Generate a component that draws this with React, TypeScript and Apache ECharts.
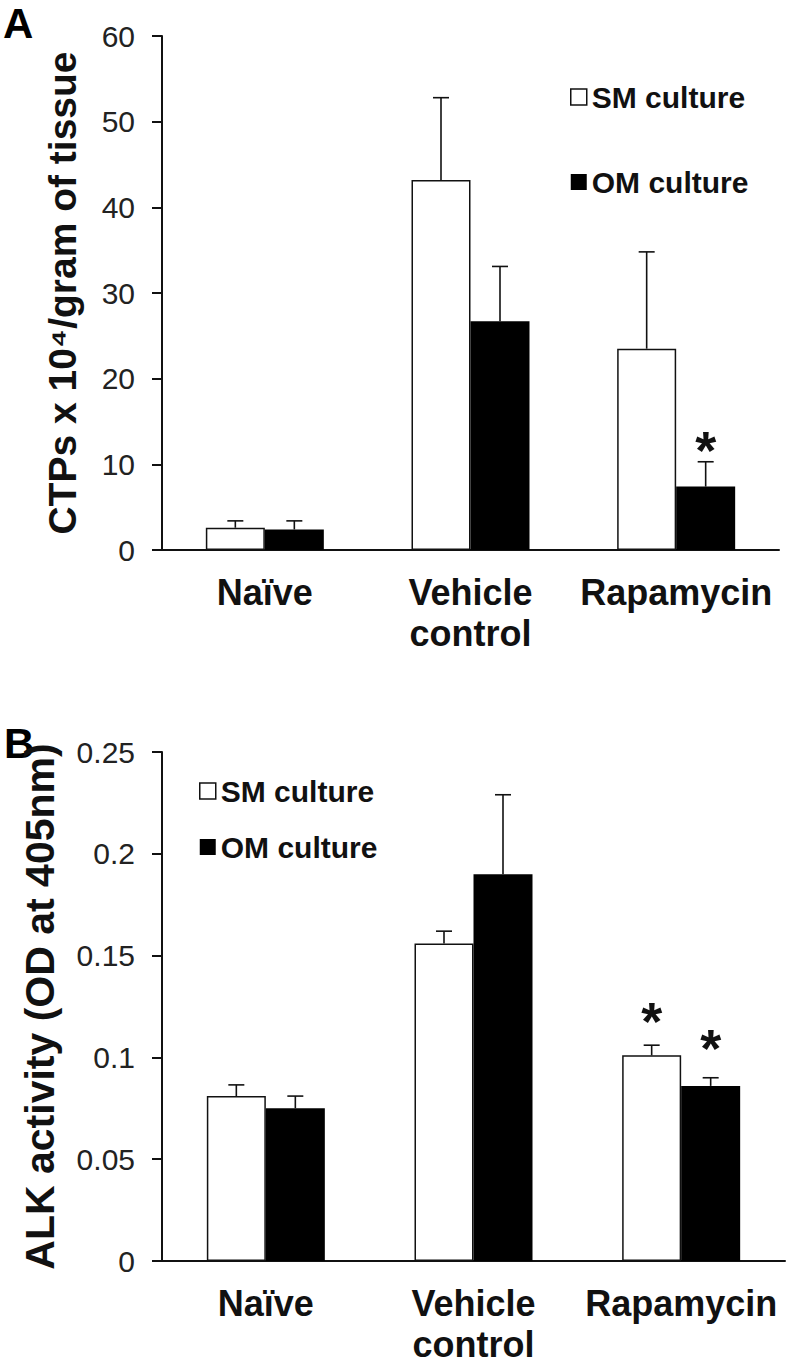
import { useEffect, useRef } from 'react';
import * as echarts from 'echarts';

const categories = ['Naïve', 'Vehicle\ncontrol', 'Rapamycin'];
const seriesNames = ['SM culture', 'OM culture'];

// Panel A: CTPs x 10^4 / gram of tissue
const ctpSM = [2.6, 43.2, 23.5];
const ctpSMErr = [0.8, 9.6, 11.3];
const ctpSMSig = [0, 0, 0];
const ctpOM = [2.4, 26.7, 7.4];
const ctpOMErr = [1.0, 6.4, 2.9];
const ctpOMSig = [0, 0, 1];

// Panel B: ALK activity (OD at 405nm)
const alkSM = [0.081, 0.156, 0.101];
const alkSMErr = [0.0055, 0.006, 0.005];
const alkSMSig = [0, 0, 1];
const alkOM = [0.075, 0.190, 0.086];
const alkOMErr = [0.006, 0.039, 0.004];
const alkOMSig = [0, 0, 1];

const FONT = '"Liberation Sans", Arial, Helvetica, sans-serif';
const BAR_W = 59;

function errData(vals: number[], errs: number[], sig: number[]) {
  return vals.map((v, i) => [i, v, v + errs[i], sig[i]]);
}

function errSeries(
  data: number[][],
  offset: number,
  axisIndex: number,
  starGap: number
) {
  return {
    type: 'custom',
    xAxisIndex: axisIndex,
    yAxisIndex: axisIndex,
    silent: true,
    z: 5,
    encode: { x: 0, y: [1, 2] },
    data,
    renderItem: (params: any, api: any) => {
      const i = api.value(0);
      const base = api.coord([i, api.value(1)]);
      const cap = api.coord([i, api.value(2)]);
      const x = base[0] + offset;
      const stroke = { stroke: '#111', lineWidth: 1.6 };
      const children: any[] = [
        { type: 'line', shape: { x1: x, y1: base[1], x2: x, y2: cap[1] }, style: stroke },
        { type: 'line', shape: { x1: x - 8, y1: cap[1], x2: x + 8, y2: cap[1] }, style: stroke },
      ];
      if (api.value(3)) {
        children.push({
          type: 'text',
          style: {
            text: '*',
            x,
            y: cap[1] - starGap,
            align: 'center',
            verticalAlign: 'middle',
            fontSize: 54,
            fontWeight: 'bold',
            fontFamily: FONT,
            fill: '#111',
          },
        });
      }
      return { type: 'group', children };
    },
  };
}

function barSeries(name: string, data: number[], axisIndex: number, white: boolean) {
  return {
    name,
    type: 'bar',
    xAxisIndex: axisIndex,
    yAxisIndex: axisIndex,
    barWidth: BAR_W,
    barGap: '0%',
    data,
    itemStyle: white
      ? { color: '#ffffff', borderColor: '#111', borderWidth: 1.5 }
      : { color: '#000000' },
  };
}

const legendData = [
  { name: seriesNames[0], itemStyle: { color: '#ffffff', borderColor: '#111', borderWidth: 1.5 } },
  { name: seriesNames[1], itemStyle: { color: '#000000', borderWidth: 0 } },
];

function yAxisBase(
  name: string,
  max: number,
  interval: number,
  gap: number,
  gridIndex: number,
  nameSize: number
) {
  return {
    type: 'value',
    gridIndex,
    min: 0,
    max,
    interval,
    name,
    nameLocation: 'middle',
    nameRotate: 90,
    nameGap: gap,
    nameTextStyle: { fontSize: nameSize, fontWeight: 'bold', color: '#111', fontFamily: FONT },
    axisLine: { show: true, lineStyle: { color: '#111', width: 2 } },
    axisTick: { show: true, length: 10, lineStyle: { color: '#111', width: 2 } },
    axisLabel: { fontSize: 30, color: '#222', margin: 27, fontFamily: FONT },
    splitLine: { show: false },
  };
}

function xAxisBase(gridIndex: number) {
  return {
    type: 'category',
    gridIndex,
    data: categories,
    axisLine: { show: true, lineStyle: { color: '#111', width: 2 } },
    axisTick: { show: false },
    axisLabel: {
      fontSize: 36,
      fontWeight: 'bold',
      color: '#111',
      margin: 22,
      lineHeight: 41,
      fontFamily: FONT,
      interval: 0,
    },
  };
}

const legendText = { fontSize: 30, fontWeight: 'bold', color: '#111', fontFamily: FONT, lineHeight: 30 };

export default function App() {
  const ref = useRef<HTMLDivElement>(null);
  useEffect(() => {
    const chart = echarts.init(ref.current!, null, { renderer: 'svg' });
    const option = {
      animation: false,
      backgroundColor: '#ffffff',
      grid: [
        { left: 162, top: 36, width: 617, height: 514 },
        { left: 162, top: 752, width: 623, height: 510 },
      ],
      legend: [
        {
          data: legendData,
          orient: 'vertical',
          left: 570,
          top: 82,
          padding: 0,
          itemWidth: 16,
          itemHeight: 16,
          itemGap: 55,
          icon: 'rect',
          selectedMode: false,
          textStyle: legendText,
        },
        {
          data: legendData,
          orient: 'vertical',
          left: 199,
          top: 776,
          padding: 0,
          itemWidth: 16,
          itemHeight: 16,
          itemGap: 26,
          icon: 'rect',
          selectedMode: false,
          textStyle: legendText,
        },
      ],
      xAxis: [xAxisBase(0), xAxisBase(1)],
      yAxis: [
        yAxisBase('CTPs x 10⁴/gram of tissue', 60, 10, 80, 0, 39),
        yAxisBase('ALK activity (OD at 405nm)', 0.25, 0.05, 102, 1, 41),
      ],
      series: [
        barSeries(seriesNames[0], ctpSM, 0, true),
        barSeries(seriesNames[1], ctpOM, 0, false),
        errSeries(errData(ctpSM, ctpSMErr, ctpSMSig), -BAR_W / 2, 0, 12),
        errSeries(errData(ctpOM, ctpOMErr, ctpOMSig), BAR_W / 2, 0, 12),
        barSeries(seriesNames[0], alkSM, 1, true),
        barSeries(seriesNames[1], alkOM, 1, false),
        errSeries(errData(alkSM, alkSMErr, alkSMSig), -BAR_W / 2, 1, 24),
        errSeries(errData(alkOM, alkOMErr, alkOMSig), BAR_W / 2, 1, 30),
      ],
      graphic: [
        {
          type: 'text',
          left: 3,
          top: 2,
          style: { text: 'A', fontSize: 42, fontWeight: 'bold', fill: '#000', fontFamily: FONT },
        },
        {
          type: 'text',
          left: 4,
          top: 722,
          style: { text: 'B', fontSize: 42, fontWeight: 'bold', fill: '#000', fontFamily: FONT },
        },
      ],
    };
    chart.setOption(option as any);
    return () => chart.dispose();
  }, []);
  return (
    <div
      ref={ref}
      style={{ position: 'absolute', left: 0, top: 0, width: 788, height: 1365, background: '#fff' }}
    />
  );
}
